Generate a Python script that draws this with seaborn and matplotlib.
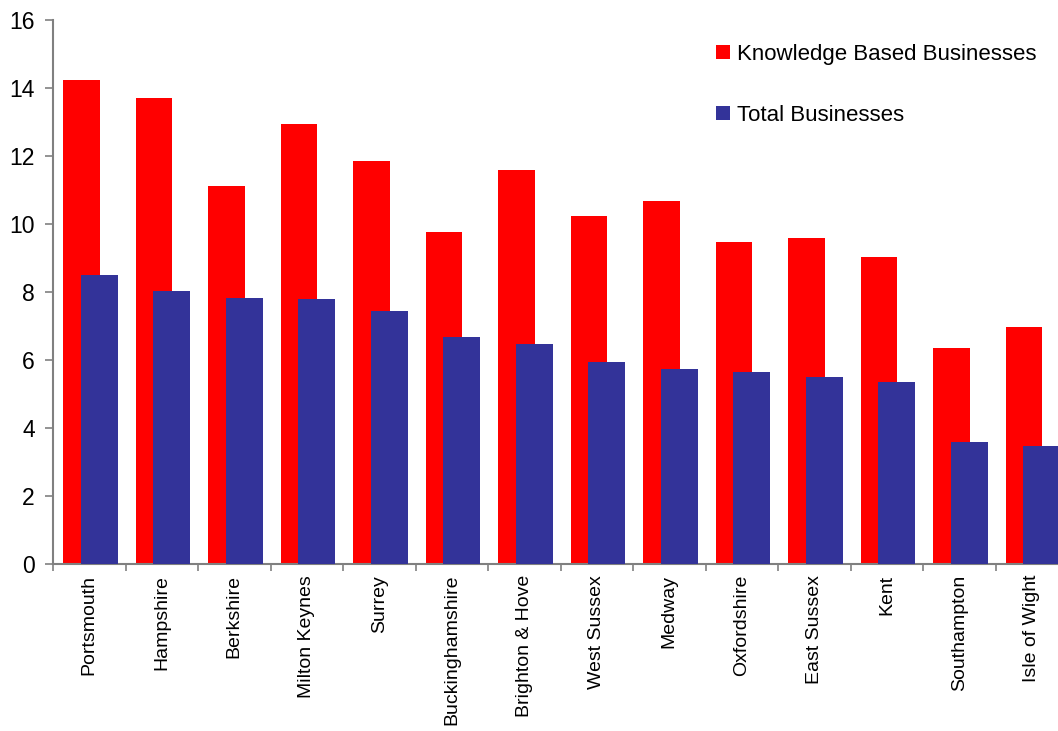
import matplotlib
matplotlib.use("Agg")
import matplotlib.pyplot as plt
from matplotlib.patches import Patch
import seaborn as sns
import pandas as pd

regions = ["Portsmouth", "Hampshire", "Berkshire", "Milton Keynes", "Surrey",
           "Buckinghamshire", "Brighton & Hove", "West Sussex", "Medway",
           "Oxfordshire", "East Sussex", "Kent", "Southampton", "Isle of Wight"]
knowledge_based = [14.24, 13.72, 11.12, 12.95, 11.86, 9.76, 11.59, 10.23,
                   10.68, 9.47, 9.59, 9.03, 6.36, 6.97]
total_businesses = [8.50, 8.03, 7.82, 7.79, 7.44, 6.67, 6.47, 5.94,
                    5.73, 5.65, 5.50, 5.35, 3.58, 3.46]
series_names = ["Knowledge Based Businesses", "Total Businesses"]
series_colors = ["#FF0000", "#333399"]
y_ticks = [0, 2, 4, 6, 8, 10, 12, 14, 16]

df = pd.DataFrame({"region": regions,
                   "kbb": knowledge_based,
                   "total": total_businesses})

sns.set_style("white")
plt.rcParams["font.family"] = ["Liberation Sans", "DejaVu Sans"]
plt.rcParams["text.color"] = "black"
plt.rcParams["xtick.labelcolor"] = "black"
plt.rcParams["ytick.labelcolor"] = "black"

fig = plt.figure(figsize=(10.58, 7.31), dpi=100)
ax = fig.add_axes([0.0501, 0.2289, 0.9594, 0.7434])

# Overlapping bar pairs: red behind, blue in front and shifted right
bar_width = 0.505
offsets = [-0.107, 0.138]
for col, color, off, z in zip(["kbb", "total"], series_colors, offsets, [2, 3]):
    n_before = len(ax.patches)
    sns.barplot(data=df, x="region", y=col, color=color, width=bar_width,
                saturation=1, errorbar=None, ax=ax, zorder=z)
    for p in ax.patches[n_before:]:
        p.set_x(p.get_x() + off)
        p.set_edgecolor("none")
        p.set_zorder(z)

ax.set_xlim(-0.5, len(regions) - 0.5)
ax.set_ylim(0, 16)
ax.set_yticks(y_ticks)
ax.set_yticklabels([str(v) for v in y_ticks], fontsize=16.5, color="black")
ax.set_xlabel("")
ax.set_ylabel("")

# Category labels centred, tick marks on category boundaries
ax.set_xticks(range(len(regions)))
ax.set_xticklabels(regions, rotation=90, fontsize=14, color="black")
ax.set_xticks([i - 0.5 for i in range(len(regions) + 1)], minor=True)
ax.tick_params(axis="x", which="major", length=0, pad=8)
ax.tick_params(axis="x", which="minor", length=5, width=1.2, color="#808080",
               direction="out", bottom=True)
ax.tick_params(axis="y", which="major", length=6, width=1.2, color="#808080",
               direction="out", left=True, pad=7)

for side in ["top", "right"]:
    ax.spines[side].set_visible(False)
for side in ["left", "bottom"]:
    ax.spines[side].set_color("#808080")
    ax.spines[side].set_linewidth(1.5)

handles = [Patch(facecolor=c, edgecolor="none", label=n)
           for c, n in zip(series_colors, series_names)]
leg = ax.legend(handles=handles, loc="upper left", bbox_to_anchor=(0.644, 0.973),
                frameon=False, fontsize=16, handlelength=0.65, handleheight=0.65,
                handletextpad=0.3, labelspacing=1.8, borderaxespad=0)
for t in leg.get_texts():
    t.set_color("black")

fig.savefig("out.png", dpi=100)
